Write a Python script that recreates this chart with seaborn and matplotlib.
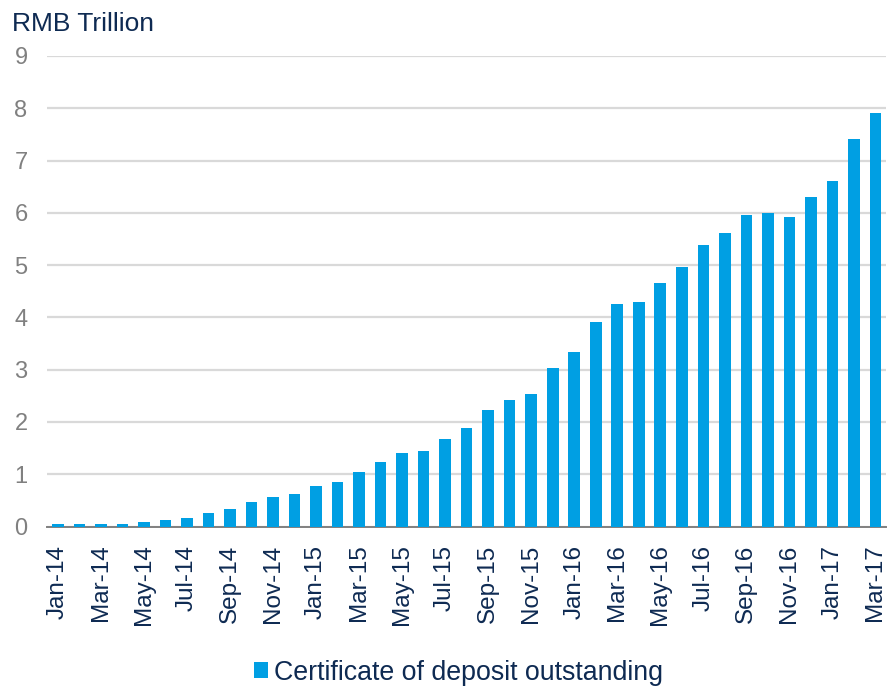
import pandas as pd
import matplotlib.pyplot as plt
import seaborn as sns

# Monthly certificate of deposit outstanding, RMB trillion
months = ['Jan-14', 'Feb-14', 'Mar-14', 'Apr-14', 'May-14', 'Jun-14', 'Jul-14', 'Aug-14',
          'Sep-14', 'Oct-14', 'Nov-14', 'Dec-14', 'Jan-15', 'Feb-15', 'Mar-15', 'Apr-15',
          'May-15', 'Jun-15', 'Jul-15', 'Aug-15', 'Sep-15', 'Oct-15', 'Nov-15', 'Dec-15',
          'Jan-16', 'Feb-16', 'Mar-16', 'Apr-16', 'May-16', 'Jun-16', 'Jul-16', 'Aug-16',
          'Sep-16', 'Oct-16', 'Nov-16', 'Dec-16', 'Jan-17', 'Feb-17', 'Mar-17']
outstanding = [0.05, 0.05, 0.05, 0.05, 0.09, 0.13, 0.17, 0.25,
               0.33, 0.47, 0.56, 0.63, 0.78, 0.86, 1.05, 1.24,
               1.40, 1.44, 1.67, 1.88, 2.23, 2.42, 2.54, 3.04,
               3.34, 3.92, 4.26, 4.30, 4.65, 4.96, 5.38, 5.61,
               5.96, 5.99, 5.92, 6.30, 6.60, 7.41, 7.91]
yticks = list(range(0, 10))

df = pd.DataFrame({'month': months, 'value': outstanding})

bar_color = '#009FE3'
navy = '#0E2A52'
grey = '#808080'

sns.set_style('white')
plt.rcParams['font.family'] = ['Liberation Sans', 'DejaVu Sans']

fig = plt.figure(figsize=(8.88, 6.88), dpi=100)
ax = fig.add_axes([0.053, 0.2347, 0.945, 0.684])

sns.barplot(data=df, x='month', y='value', color=bar_color, saturation=1,
            width=0.54, linewidth=0, label='Certificate of deposit outstanding',
            ax=ax, zorder=3)

ax.set_ylim(0, 9)
ax.set_xlim(-0.5, len(months) - 0.5)
ax.set_yticks(yticks)
ax.set_yticklabels([str(t) for t in yticks], fontsize=17, color=grey)
ax.yaxis.grid(True, color='#D9D9D9', linewidth=1.6, zorder=0)
ax.tick_params(axis='y', length=0, pad=14)

# tick marks between categories, labels under every second month
ax.set_xticks([i - 0.5 for i in range(0, len(months), 2)])
ax.set_xticklabels([])
ax.set_xticks(list(range(0, len(months), 2)), minor=True)
ax.set_xticklabels(months[::2], minor=True, rotation=90, fontsize=17.5, color=navy)
ax.tick_params(axis='x', which='major', length=6, width=1.2, color=grey, direction='out')
ax.tick_params(axis='x', which='minor', length=0, pad=13)

ax.set_xlabel('')
ax.set_ylabel('')
for side in ['top', 'right', 'left']:
    ax.spines[side].set_visible(False)
ax.spines['bottom'].set_color(grey)
ax.spines['bottom'].set_linewidth(1.4)

fig.text(0.013, 0.965, 'RMB Trillion', fontsize=19, color=navy, va='center', ha='left')

ax.legend(loc='center', bbox_to_anchor=(0.516, 0.022), bbox_transform=fig.transFigure,
          frameon=False, fontsize=19.3, handlelength=0.55, handleheight=0.55,
          handletextpad=0.2, labelcolor=navy)

fig.savefig('out.png', dpi=100)
